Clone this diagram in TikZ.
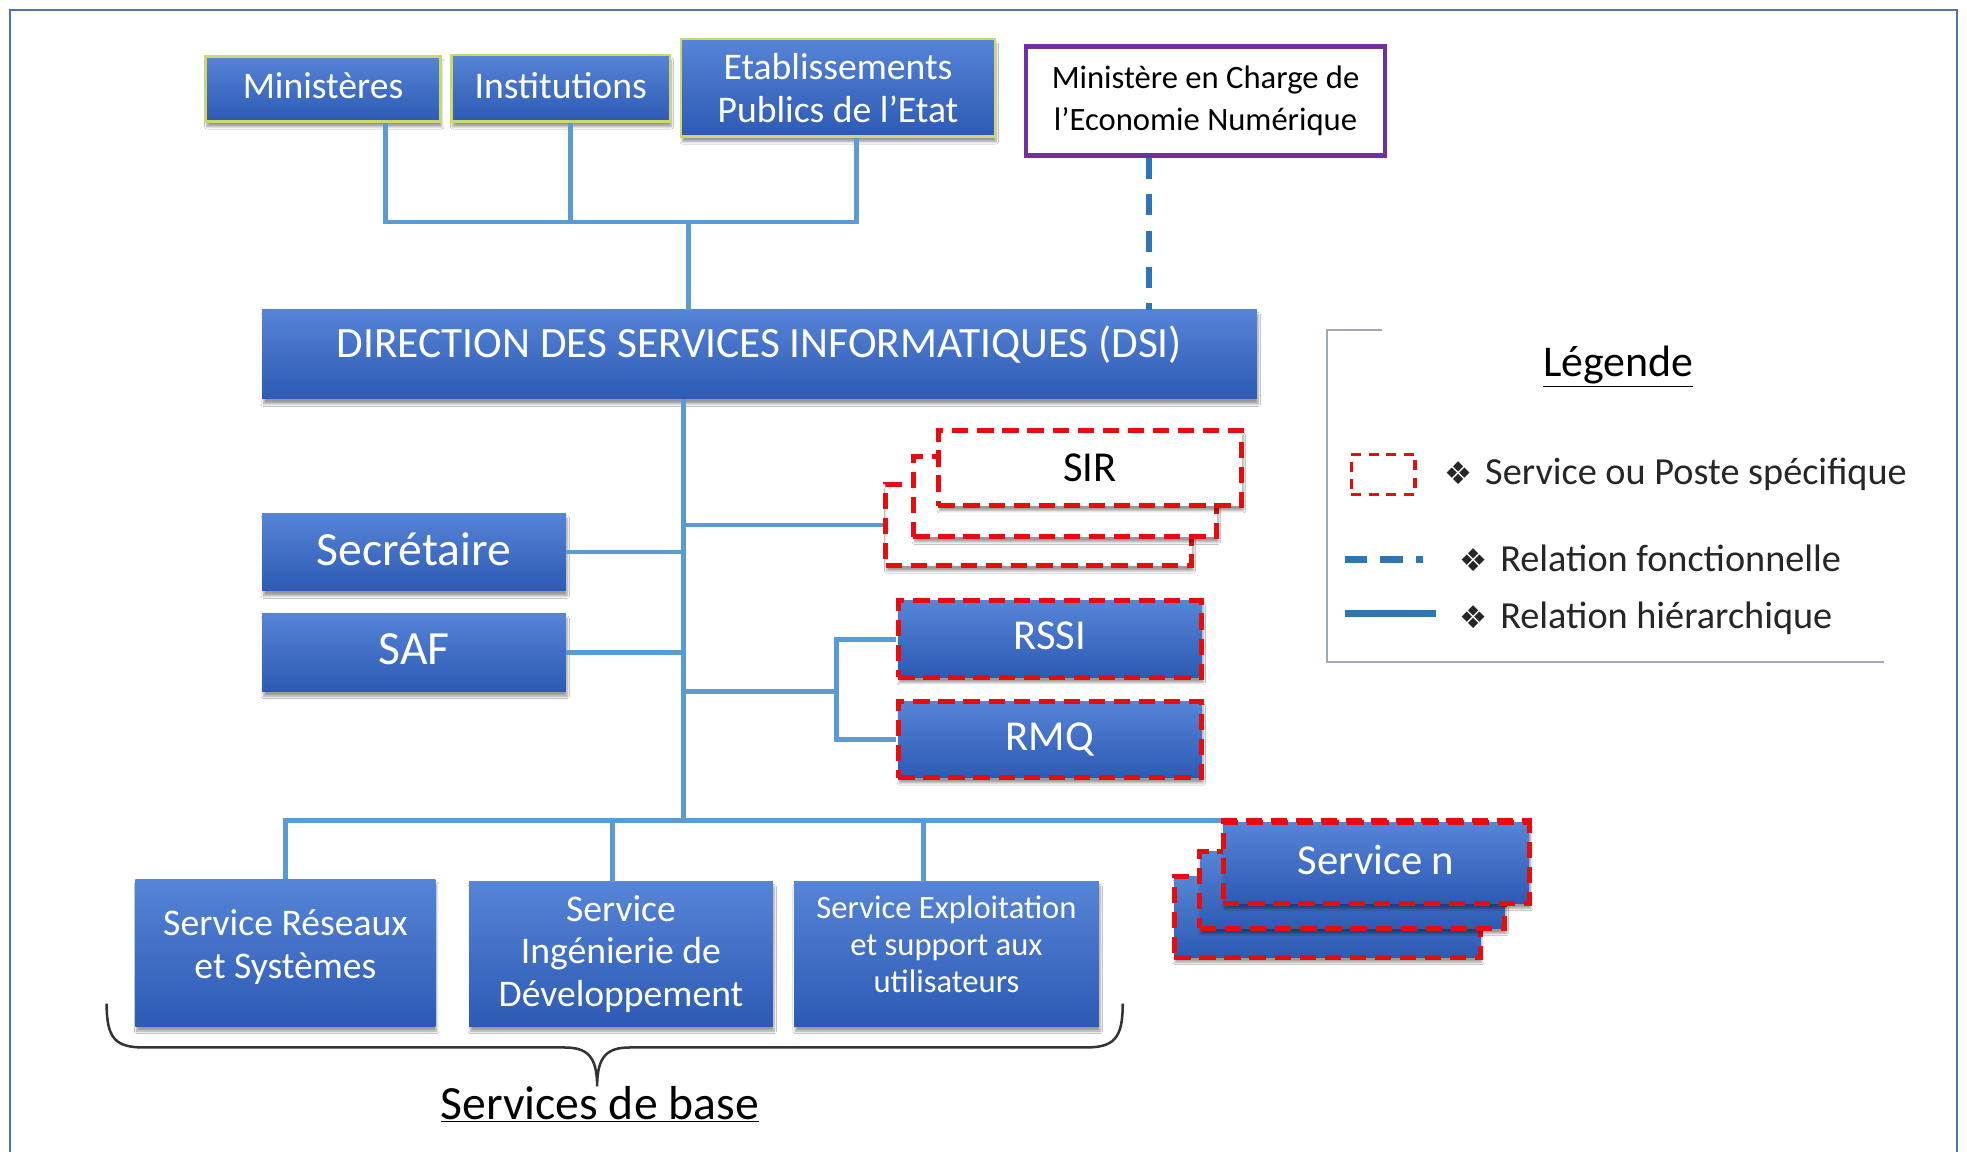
\documentclass[tikz,border=0pt]{standalone}
\usepackage{fontspec}
\setmainfont{Carlito}
\newfontfamily\symfont{DejaVu Sans}
\usetikzlibrary{shadows,shadows.blur,calc}
\definecolor{boxtop}{RGB}{86,132,214}
\definecolor{boxbot}{RGB}{45,90,180}
\definecolor{conncol}{RGB}{91,155,213}
\definecolor{fconncol}{RGB}{46,117,182}
\definecolor{reddash}{RGB}{232,12,12}
\definecolor{purp}{RGB}{112,48,160}
\definecolor{framecol}{RGB}{70,120,175}
\definecolor{lgline}{RGB}{160,168,185}
\definecolor{ygreen}{RGB}{205,215,110}
\begin{document}
\begin{tikzpicture}[x=1pt,y=-1pt,
  softshadow/.style={blur shadow={shadow xshift=1pt, shadow yshift=-4pt, shadow opacity=40, shadow blur steps=6}},
  bluebox/.style={rectangle, inner sep=0pt, align=center, text=white, top color=boxtop, bottom color=boxbot, softshadow},
  topbox/.style={bluebox, draw=ygreen, line width=2pt, font=\fontsize{30}{34}\selectfont},
  redbox/.style={draw=reddash, line width=4pt, dash pattern=on 13pt off 7pt},
  whitered/.style={rectangle, inner sep=0pt, align=center, fill=white, redbox, softshadow},
  bluered/.style={bluebox, redbox},
  conn/.style={draw=conncol, line width=3.8pt},
  fconn/.style={draw=fconncol, line width=5pt, dash pattern=on 17pt off 12pt},
  lgtext/.style={anchor=west, font=\fontsize{30.5}{34}\selectfont, text=black!85}
]
\useasboundingbox (0,0) rectangle (1568,918);
\fill[white] (0,0) rectangle (1568,918);
% outer frame
\draw[framecol, line width=2pt] (8,940) -- (8,8) -- (1560,8) -- (1560,940);

% top row
\node[topbox, minimum width=187, minimum height=52] (min) at (257.5,71) {\raisebox{5pt}{Ministères}};
\node[topbox, minimum width=174, minimum height=53] (inst) at (447,70.5) {\raisebox{5pt}{Institutions}};
\node[topbox, minimum width=250, minimum height=78] (etab) at (668,70) {Etablissements\\Publics de l’Etat};
\node[rectangle, inner sep=0pt, align=center, fill=white, draw=purp, line width=3.5pt, minimum width=286, minimum height=87, font=\fontsize{26}{33}\selectfont] (mce) at (961,80.5) {Ministère en Charge de\\l’Economie Numérique};

% DSI
\node[bluebox, minimum width=793, minimum height=71, font=\fontsize{34.5}{40}\selectfont] (dsi) at (605.5,282.5) {\raisebox{21pt}{DIRECTION DES SERVICES INFORMATIQUES (DSI)}};

% left column
\node[bluebox, minimum width=242, minimum height=62, font=\fontsize{38}{44}\selectfont] (sec) at (330,440) {\raisebox{5pt}{Secrétaire}};
\node[bluebox, minimum width=242, minimum height=62, font=\fontsize{38}{44}\selectfont] (saf) at (330,520) {\raisebox{5pt}{SAF}};

% SIR stack
\node[whitered, minimum width=244, minimum height=65] (sir3) at (828,418.5) {};
\node[whitered, minimum width=242, minimum height=64] (sir2) at (849,396) {};
\node[whitered, minimum width=242, minimum height=60, font=\fontsize{34}{40}\selectfont] (sir1) at (869,373) {SIR};

% RSSI / RMQ
\node[bluered, minimum width=242, minimum height=61, font=\fontsize{34}{40}\selectfont] (rssi) at (837,509.5) {\raisebox{5pt}{RSSI}};
\node[bluered, minimum width=242, minimum height=61, font=\fontsize{34}{40}\selectfont] (rmq) at (837,589.5) {\raisebox{5pt}{RMQ}};

% bottom services
\node[bluebox, minimum width=239, minimum height=117, font=\fontsize{30}{34}\selectfont, text depth=14pt] (sr) at (227.5,759.5) {Service Réseaux\\et Systèmes};
\node[bluebox, minimum width=242, minimum height=115, font=\fontsize{30}{34}\selectfont] (si) at (495,760.5) {Service\\Ingénierie de\\Développement};
\node[bluebox, minimum width=243, minimum height=115, font=\fontsize{26}{29.5}\selectfont, text depth=16pt] (se) at (754.5,760.5) {Service Exploitation\\et support aux\\utilisateurs};

% Service n stack
\node[bluered, minimum width=244, minimum height=64] (srvn3) at (1058,731) {};
\node[bluered, minimum width=243, minimum height=61] (srvn2) at (1078,709.5) {};
\node[bluered, minimum width=244, minimum height=64, font=\fontsize{34}{40}\selectfont] (srvn1) at (1097,688) {\raisebox{5pt}{Service n}};

% connectors top
\coordinate (topbus) at (549,177);
\coordinate (minb) at ([xshift=49.5pt]min.south);
\coordinate (instb) at ([xshift=8pt]inst.south);
\coordinate (etabb) at ([xshift=15pt]etab.south);
\draw[conn] (minb) |- (topbus);
\draw[conn] (etabb) |- (topbus);
\draw[conn] (instb) -- (instb |- topbus);
\draw[conn] (topbus) -- (topbus |- dsi.north);
\coordinate (mceb) at ([xshift=-45pt]mce.south);
\draw[fconn] (mceb) -- (mceb |- dsi.north);

% trunk
\coordinate (trk) at ([xshift=-60.5pt]dsi.south);
\coordinate (botbus) at (trk |- srvn1.north);
\draw[conn] (trk) -- (botbus);
\draw[conn] (sec.east) -- (sec.east -| trk);
\draw[conn] (saf.east) -- (saf.east -| trk);
\draw[conn] (sir3.west) -- (sir3.west -| trk);
\coordinate (brk) at (667,551);
\draw[conn] (trk |- brk) -- (brk);
\draw[conn] (rssi.west) -- (rssi.west -| brk) -- (rmq.west -| brk) -- (rmq.west);

% bottom bus
\draw[conn] (sr.north) |- (srvn1.north west);
\coordinate (sib) at ([xshift=-7pt]si.north);
\coordinate (seb) at ([xshift=-18.5pt]se.north);
\draw[conn] (sib) -- (sib |- botbus);
\draw[conn] (seb) -- (seb |- botbus);
\draw[redbox] (srvn1.north west) -- (srvn1.north east);

% brace
\coordinate (brL) at (85,800);
\coordinate (brR) at (895,800);
\coordinate (brT) at (476,866);
\draw[black!80, line width=2pt] (brL) .. controls (85,828) and (92,835) .. (115,835) -- (450,835) .. controls (468,835) and (476,842) .. (brT) .. controls (476,842) and (484,835) .. (502,835) -- (865,835) .. controls (888,835) and (895,828) .. (brR);
\node[font=\fontsize{38}{44}\selectfont, text=black] (base) at (478,880) {\underline{Services de base}};

% legend
\draw[lgline, line width=1.5pt] (1102,263) -- (1058,263) -- (1058,528) -- (1502,528);
\node[font=\fontsize{35}{40}\selectfont, text=black] (leg) at (1290,292) {\underline{Légende}};
\node[draw=reddash, line width=2.5pt, dash pattern=on 8pt off 6pt, minimum width=51, minimum height=32, inner sep=0pt] (lgbox) at (1102.5,378) {};
\node[lgtext] (lg1) at (1148,378) {{\symfont\fontsize{25}{28}\selectfont ❖}\hspace{10pt}Service ou Poste spécifique};
\coordinate (lgd1) at (1072,446);
\coordinate (lgd2) at (1150,446);
\draw[draw=fconncol, line width=5pt, dash pattern=on 18pt off 10pt on 18pt off 11pt on 5pt off 60pt] (lgd1) -- (lgd2);
\node[lgtext] (lg2) at (1160,445) {{\symfont\fontsize{25}{28}\selectfont ❖}\hspace{10pt}Relation fonctionnelle};
\coordinate (lgs1) at (1072,489);
\coordinate (lgs2) at (1145,489);
\draw[draw=fconncol, line width=5pt] (lgs1) -- (lgs2);
\node[lgtext] (lg3) at (1160,493) {{\symfont\fontsize{25}{28}\selectfont ❖}\hspace{10pt}Relation hiérarchique};
\end{tikzpicture}
\end{document}
